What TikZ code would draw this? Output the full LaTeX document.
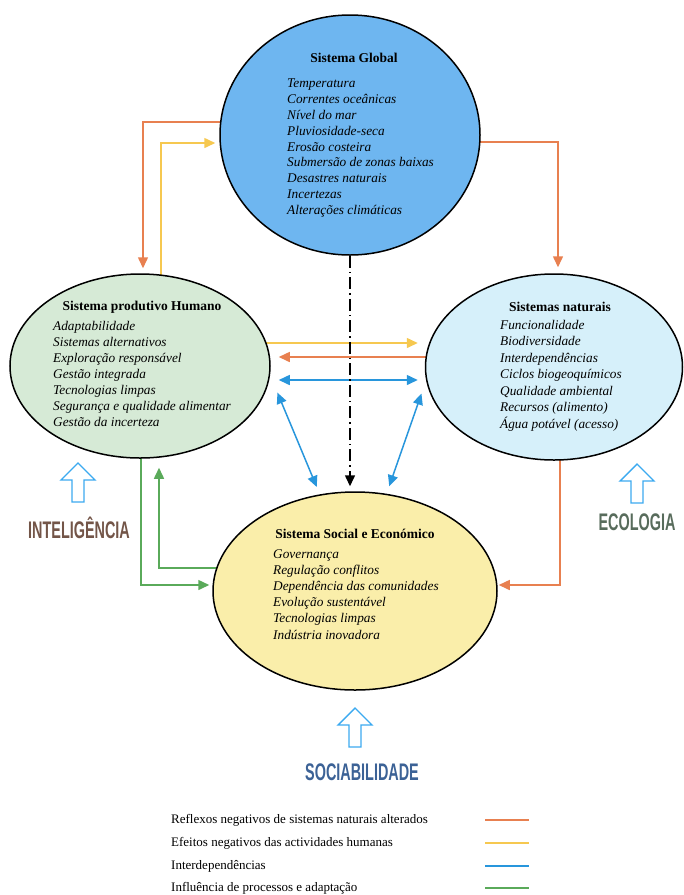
\documentclass[tikz,border=0pt]{standalone}
\usepackage{fontspec}
\setmainfont{Liberation Serif}
\newfontfamily\labelfont[FakeStretch=0.6]{Liberation Sans}
\usetikzlibrary{positioning,shapes,arrows.meta,backgrounds}

\definecolor{globblue}{RGB}{110,182,240}
\definecolor{prodgreen}{RGB}{214,234,214}
\definecolor{natcyan}{RGB}{214,240,250}
\definecolor{socyellow}{RGB}{250,238,170}
\definecolor{arrorange}{RGB}{232,128,80}
\definecolor{arryellow}{RGB}{246,200,80}
\definecolor{arrblue}{RGB}{40,150,220}
\definecolor{arrgreen}{RGB}{90,170,90}
\definecolor{hollowblue}{RGB}{60,170,240}
\definecolor{intcol}{RGB}{115,85,72}
\definecolor{ecocol}{RGB}{88,108,92}
\definecolor{soccol}{RGB}{60,98,150}

\tikzset{
  sysellipse/.style={draw, line width=1.5pt, shape=ellipse, inner sep=0pt},
  systitle/.style={font=\fontsize{13.5}{15}\selectfont\bfseries, inner sep=0pt},
  syslist/.style={font=\fontsize{13.3}{16}\selectfont\itshape, align=left, anchor=north west, inner sep=0pt},
  link/.style={line width=1.5pt, -{Triangle[length=11pt,width=10pt]}},
  linkboth/.style={line width=1.5pt, {Triangle[length=11pt,width=10pt]}-{Triangle[length=11pt,width=10pt]}},
  hollow/.style={draw=hollowblue, line width=1.4pt, fill=white, line join=miter},
  axislabel/.style={font=\labelfont\bfseries\fontsize{24}{24}\selectfont, inner sep=0pt},
  legendtext/.style={font=\fontsize{13}{14}\selectfont, anchor=west, inner sep=0pt}
}

\begin{document}
\begin{tikzpicture}[x=1pt, y=-1pt]
    \useasboundingbox (0,0) rectangle (684,895);
    % the four systems
    \node[sysellipse, fill=globblue, minimum width=260pt, minimum height=240pt] (glob) at (350,135) {};
    \node[sysellipse, fill=prodgreen, minimum width=260pt, minimum height=184pt] (prod) at (140,366) {};
    \node[sysellipse, fill=natcyan, minimum width=257pt, minimum height=186pt] (nat) at (554,367) {};
    \node[sysellipse, fill=socyellow, minimum width=284pt, minimum height=198pt] (soc) at (355,591) {};

    \node[systitle] (globtitle) at (354,58) {Sistema Global};
    \node[syslist, font=\fontsize{13.3}{15.8}\selectfont\itshape] (globlist) at (287,79) {Temperatura\\Correntes oceânicas\\Nível do mar\\Pluviosidade-seca\\Erosão costeira\\Submersão de zonas baixas\\Desastres naturais\\Incertezas\\Alterações climáticas};
    \node[systitle] (prodtitle) at (142,307) {Sistema produtivo Humano};
    \node[syslist] (prodlist) at (53,321) {Adaptabilidade\\Sistemas alternativos\\Exploração responsável\\Gestão integrada\\Tecnologias limpas\\Segurança e qualidade alimentar\\Gestão da incerteza};
    \node[systitle] (nattitle) at (560,307) {Sistemas naturais};
    \node[syslist, font=\fontsize{13.3}{16.5}\selectfont\itshape] (natlist) at (500,320) {Funcionalidade\\Biodiversidade\\Interdependências\\Ciclos biogeoquímicos\\Qualidade ambiental\\Recursos (alimento)\\Água potável (acesso)};
    \node[systitle] (soctitle) at (355,534) {Sistema Social e Económico};
    \node[syslist, font=\fontsize{13.3}{16.2}\selectfont\itshape] (soclist) at (273,549) {Governança\\Regulação conflitos\\Dependência das comunidades\\Evolução sustentável\\Tecnologias limpas\\Indústria inovadora};

    % connectors
    \begin{scope}[on background layer]
    \draw[link, arrorange, shorten >=5pt] (glob.center |- 0,122) -| (prod.north -| 143,0);
    \draw[link, arryellow, shorten >=4pt] (prod.center -| 161,0) |- (glob.west |- 0,143);
    \draw[link, arrorange, shorten >=6pt] (glob.center |- 0,142) -| (nat.north -| 558,0);
    \draw[link, arryellow, shorten >=7pt] (prod.center |- 0,343) -- (nat.west |- 0,343);
    \draw[link, arrorange, shorten >=8pt] (nat.center |- 0,357) -- (prod.east |- 0,357);
    \draw[linkboth, arrblue, shorten <=8pt, shorten >=7pt] (prod.east |- 0,380) -- (nat.west |- 0,380);
    \draw[linkboth, arrblue, shorten <=19pt, shorten >=8pt] (prod.-4) -- (soc.110);
    \draw[linkboth, arrblue, shorten <=14pt, shorten >=8pt] (nat.186) -- (soc.72);
    \draw[link, black, dash pattern=on 12pt off 4pt on 1.5pt off 4pt, shorten >=5pt] (glob.south) -- (soc.north -| glob.south);
    \draw[link, arrgreen, shorten >=3pt] (prod.center -| 141,0) |- (soc.west |- 0,585);
    \draw[link, arrgreen, shorten >=9pt] (soc.center |- 0,568) -| (prod.south -| 159,0);
    \draw[link, arrorange, shorten >=1pt] (nat.center -| 560,0) |- (soc.east |- 0,585);
    \end{scope}

    % the three qualities
    \foreach \x/\y in {78/463, 637/464, 355/708}
        \draw[hollow] (\x,\y) -- ++(-17,17) -- ++(11,0) -- ++(0,22) -- ++(12,0) -- ++(0,-22) -- ++(11,0) -- cycle;
    \node[axislabel, text=intcol] (intel) at (79,528) {INTELIGÊNCIA};
    \node[axislabel, text=ecocol] (ecol) at (637,522) {ECOLOGIA};
    \node[axislabel, text=soccol] (sociab) at (362,772) {SOCIABILIDADE};

    % legend
    \foreach \y/\c/\t in {820/arrorange/{Reflexos negativos de sistemas naturais alterados},
                          843/arryellow/{Efeitos negativos das actividades humanas},
                          866/arrblue/{Interdependências},
                          888/arrgreen/{Influência de processos e adaptação}} {
        \node[legendtext] (leg\y) at (171,\y) {\t};
        \draw[\c, line width=1.4pt] (485,\y) -- (529,\y);
    }
\end{tikzpicture}
\end{document}
